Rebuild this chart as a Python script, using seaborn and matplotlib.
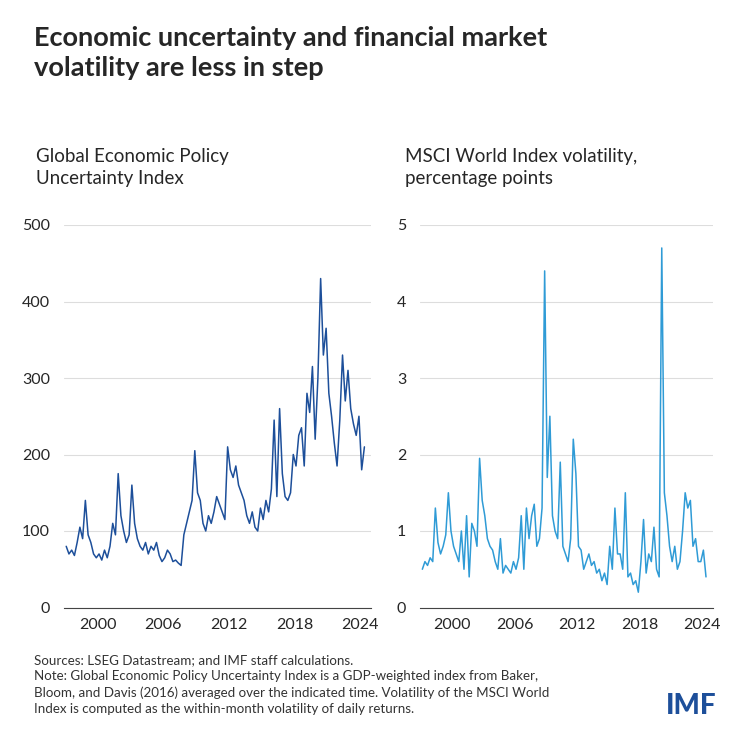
import numpy as np
import matplotlib.pyplot as plt
import seaborn as sns

# quarterly readings, starting 1997 Q1
epu = [80, 70, 75, 68, 85, 105, 90, 140, 95, 85, 70, 65, 70, 62, 75, 65,
       80, 110, 95, 175, 120, 100, 85, 95, 160, 110, 90, 80, 75, 85, 70, 80,
       75, 85, 68, 60, 65, 75, 70, 60, 62, 58, 55, 95, 110, 125, 140, 205,
       150, 140, 110, 100, 120, 110, 125, 145, 135, 125, 115, 210, 180, 170, 185, 160,
       150, 140, 120, 110, 125, 105, 100, 130, 115, 140, 125, 155, 245, 145, 260, 175,
       145, 140, 150, 200, 185, 225, 235, 185, 280, 255, 315, 220, 300, 430, 330, 365,
       280, 250, 215, 185, 245, 330, 270, 310, 260, 240, 225, 250, 180, 210]
vol = [0.5, 0.6, 0.55, 0.65, 0.6, 1.3, 0.85, 0.7, 0.8, 0.95, 1.5, 1.0, 0.8, 0.7, 0.6, 1.0,
       0.5, 1.2, 0.4, 1.1, 1.0, 0.8, 1.95, 1.4, 1.2, 0.9, 0.8, 0.75, 0.6, 0.5, 0.9, 0.45,
       0.55, 0.5, 0.45, 0.6, 0.5, 0.65, 1.2, 0.5, 1.3, 0.9, 1.2, 1.35, 0.8, 0.9, 1.3, 4.4,
       1.7, 2.5, 1.2, 1.0, 0.9, 1.9, 0.8, 0.7, 0.6, 0.9, 2.2, 1.75, 0.8, 0.75, 0.5, 0.6,
       0.7, 0.55, 0.6, 0.45, 0.5, 0.35, 0.45, 0.3, 0.8, 0.5, 1.3, 0.7, 0.7, 0.5, 1.5, 0.4,
       0.45, 0.3, 0.35, 0.2, 0.6, 1.15, 0.45, 0.7, 0.6, 1.05, 0.5, 0.4, 4.7, 1.5, 1.2, 0.8,
       0.6, 0.8, 0.5, 0.6, 1.0, 1.5, 1.3, 1.4, 0.8, 0.9, 0.6, 0.6, 0.75, 0.4]
dates = 1997.125 + np.arange(len(epu)) / 4
years = [2000, 2006, 2012, 2018, 2024]

sns.set_style("white")
plt.rcParams['font.family'] = ['Lato', 'DejaVu Sans']

fig = plt.figure(figsize=(7.5, 7.5), dpi=100)
fig.text(0.045, 0.965, "Economic uncertainty and financial market\nvolatility are less in step",
         fontsize=19.5, fontweight='bold', va='top', linespacing=1.3)

panels = [
    (epu, "#1d4f9a", [0.085, 0.19, 0.41, 0.51], 500, 100, -0.09,
     "Global Economic Policy\nUncertainty Index"),
    (vol, "#2f9bd6", [0.56, 0.19, 0.39, 0.51], 5, 1, -0.05,
     "MSCI World Index volatility,\npercentage points"),
]
for vals, col, rect, top, step, subx, sub in panels:
    ax = fig.add_axes(rect)
    sns.lineplot(x=dates, y=vals, color=col, lw=1.1, ax=ax)
    ax.set_ylim(0, top)
    ax.set_yticks(np.arange(0, top + step / 2, step))
    ax.set_xlim(1996.9, 2025)
    ax.set_xticks(years)
    ax.grid(axis='y', color='#dddddd', lw=0.8)
    for s in ['top', 'right', 'left']:
        ax.spines[s].set_visible(False)
    ax.spines['bottom'].set_color('#444444')
    ax.tick_params(axis='x', length=4, color='#444444', labelsize=11.5)
    ax.tick_params(axis='y', length=0, labelsize=11.5, pad=10)
    ax.text(subx, 1.1, sub, transform=ax.transAxes,
            fontsize=13.5, va='bottom', linespacing=1.35)

fig.text(0.045, 0.128, "Sources: LSEG Datastream; and IMF staff calculations.\n"
         "Note: Global Economic Policy Uncertainty Index is a GDP-weighted index from Baker,\n"
         "Bloom, and Davis (2016) averaged over the indicated time. Volatility of the MSCI World\n"
         "Index is computed as the within-month volatility of daily returns.",
         fontsize=9.6, va='top', linespacing=1.4, color='#333333')
fig.text(0.955, 0.048, "IMF", fontsize=20, fontweight='black', color='#1d4f9a', ha='right')

fig.savefig("out.png", dpi=100)
